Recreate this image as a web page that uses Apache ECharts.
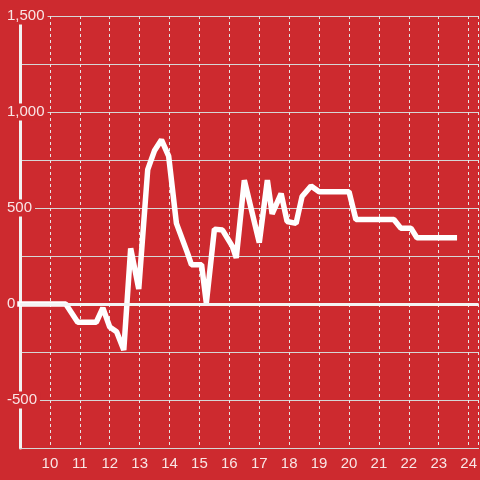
<!DOCTYPE html>
<html>
<head>
<meta charset="utf-8">
<script src="https://cdn.jsdelivr.net/npm/echarts@6/dist/echarts.min.js"></script>
<style>
  html, body { margin: 0; padding: 0; background: #cd2a2f; }
  #main { width: 480px; height: 480px; }
</style>
</head>
<body>
<div id="main"></div>
<script>
// hours of the day (x) and the value at each point (y)
const hours = [9, 10.53, 10.93, 11.55, 11.77, 12.0, 12.23, 12.47, 12.7, 12.97,
  13.27, 13.5, 13.73, 13.97, 14.23, 14.6, 14.73, 15.07, 15.23, 15.5,
  15.77, 16.1, 16.23, 16.5, 17.0, 17.27, 17.43, 17.73, 17.93, 18.23,
  18.43, 18.73, 19.0, 20.0, 20.23, 21.5, 21.73, 22.07, 22.27, 23.52];
const values = [0, 0, -95, -95, -20, -120, -145, -240, 290, 78,
  700, 800, 855, 770, 420, 265, 205, 205, 5, 390,
  385, 300, 240, 645, 320, 645, 470, 575, 430, 420,
  560, 615, 585, 585, 440, 440, 395, 395, 345, 345];

const yTicks = [-500, 0, 500, 1000, 1500];

const chart = echarts.init(document.getElementById('main'));

const points = hours.map((h, i) => [h, values[i]]);

chart.setOption({
  backgroundColor: '#cd2a2f',
  animation: false,
  grid: { left: 20, right: 0, top: 16, bottom: 32 },
  xAxis: {
    type: 'value',
    min: 9,
    max: 24.333,
    interval: 1,
    axisLine: { onZero: false, lineStyle: { color: '#d6d6d6', width: 1 } },
    axisTick: { show: false },
    axisLabel: {
      showMinLabel: false,
      showMaxLabel: false,
      color: 'rgba(255,255,255,0.88)',
      fontSize: 15,
      fontFamily: 'Liberation Sans',
      margin: 8
    },
    splitLine: { lineStyle: { color: '#e6e6e6', type: [3, 3], width: 1 } }
  },
  yAxis: {
    type: 'value',
    min: -750,
    max: 1500,
    interval: 250,
    axisLine: { show: true, onZero: false, lineStyle: { color: '#f2f2f2', width: 3 } },
    axisTick: { show: false },
    axisLabel: {
      align: 'left',
      margin: 14,
      color: 'rgba(255,255,255,0.88)',
      fontSize: 15,
      fontFamily: 'Liberation Sans',
      backgroundColor: '#cd2a2f',
      padding: [1, 3, 1, 1],
      formatter: v => yTicks.indexOf(v) >= 0 ? v.toLocaleString('en-US') : ''
    },
    splitLine: { lineStyle: { color: '#d6d6d6', width: 1 } }
  },
  series: [{
    type: 'line',
    data: points,
    symbol: 'none',
    clip: false,
    lineStyle: { color: '#ffffff', width: 5.5, cap: 'square', join: 'bevel' },
    markLine: {
      silent: true,
      symbol: 'none',
      label: { show: false },
      lineStyle: { color: '#f4f4f4', width: 3, type: 'solid' },
      data: [{ yAxis: 0 }]
    }
  }]
});
</script>
</body>
</html>
